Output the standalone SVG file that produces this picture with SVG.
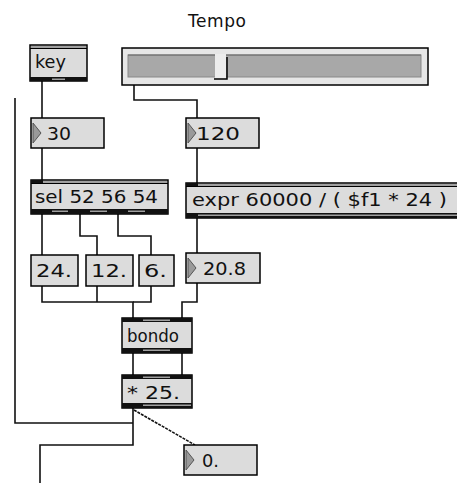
<svg xmlns="http://www.w3.org/2000/svg" width="457" height="483" viewBox="0 0 457 483">
<style>
.box{fill:#dcdcdc;stroke:#000;stroke-width:1.5}
.num{fill:#dcdcdc;stroke:#000;stroke-width:1.5}
.tri{fill:#9a9a9a;stroke:#555;stroke-width:1}
.bar{fill:#111}
.gr{fill:#a0a0a0}
.topl{stroke:#000;stroke-width:1}
.t{font-family:"DejaVu Sans","Liberation Sans",sans-serif;font-size:18.5px;fill:#111}
.w{fill:none;stroke:#111;stroke-width:1.6}
</style>
<rect width="457" height="483" fill="#fff"/>
<text class="t" x="188" y="27" textLength="58" style="font-size:17px">Tempo</text>

<g id="connectors">
<polyline class="w" points="42,81 42,118"/>
<polyline class="w" points="134,85 134,100 197,100 197,118"/>
<polyline class="w" points="42,148 42,180"/>
<polyline class="w" points="197,148 197,183"/>
<polyline class="w" points="42,214 42,255"/>
<polyline class="w" points="80,214 80,236 97,236 97,255"/>
<polyline class="w" points="118,214 118,236 151,236 151,255"/>
<polyline class="w" points="197,218 197,253"/>
<polyline class="w" points="42,286 42,302 133,302 133,318"/>
<polyline class="w" points="97,286 97,302"/>
<polyline class="w" points="151,286 151,302 133,302"/>
<polyline class="w" points="197,283 197,302 182,302 182,318"/>
<polyline class="w" points="133,353 133,375"/>
<polyline class="w" points="182,353 182,375"/>
<polyline class="w" points="15,98 15,423 133,423"/>
<polyline class="w" points="133,408 133,445 40,445 40,483"/>
<line class="w" x1="134" y1="410" x2="195" y2="445" stroke-dasharray="3,1" stroke-width="1.4"/>
</g>

<g id="key">
<rect class="box" x="30" y="45" width="57" height="36"/>
<line class="topl" x1="30" y1="48.5" x2="87" y2="48.5"/>
<rect class="gr" x="31" y="46" width="55" height="2"/>
<rect class="bar" x="30" y="77" width="57" height="4"/>
<rect class="gr" x="52" y="78.5" width="13" height="1.5"/>
<text class="t" x="35" y="68" textLength="31" lengthAdjust="spacingAndGlyphs">key</text>
</g>

<g id="slider">
<rect x="122" y="48" width="306" height="37" fill="#e6e6e6" stroke="#000" stroke-width="1.5"/>
<rect x="128" y="55" width="293" height="22" fill="#a8a8a8" stroke="#888" stroke-width="1"/>
<line x1="128" y1="55" x2="421" y2="55" stroke="#666" stroke-width="1"/>
<rect x="215" y="54" width="11" height="24" fill="#ececec"/>
<polyline points="214,79 227,79 227,57" fill="none" stroke="#000" stroke-width="1.5"/>
</g>

<g id="num30">
<rect class="num" x="31" y="118" width="73" height="30"/>
<polygon class="tri" points="33,123 41,133 33,143"/>
<text class="t" x="47" y="140" textLength="24" lengthAdjust="spacingAndGlyphs">30</text>
</g>

<g id="num120">
<rect class="num" x="186" y="118" width="73" height="30"/>
<polygon class="tri" points="188,123 196,133 188,143"/>
<text class="t" x="196" y="140" textLength="44" lengthAdjust="spacingAndGlyphs">120</text>
</g>

<g id="sel">
<rect class="box" x="31" y="180" width="137" height="34"/>
<rect class="gr" x="32" y="181" width="135" height="2"/>
<rect class="bar" x="31" y="180" width="12" height="3.5"/>
<line class="topl" x1="31" y1="183.5" x2="168" y2="183.5"/>
<rect class="bar" x="31" y="209" width="137" height="5"/>
<rect class="gr" x="52" y="210.5" width="16" height="1.5"/>
<rect class="gr" x="90" y="210.5" width="17" height="1.5"/>
<rect class="gr" x="128" y="210.5" width="17" height="1.5"/>
<text class="t" x="35" y="203" textLength="123" lengthAdjust="spacingAndGlyphs">sel 52 56 54</text>
</g>

<g id="expr">
<rect class="box" x="186" y="183" width="275" height="35"/>
<rect class="gr" x="187" y="184" width="273" height="2"/>
<rect class="bar" x="186" y="183" width="12" height="3.5"/>
<line class="topl" x1="186" y1="186.5" x2="461" y2="186.5"/>
<rect class="bar" x="186" y="213" width="275" height="5"/>
<rect class="gr" x="198" y="214.5" width="262" height="1.5"/>
<text class="t" x="192" y="206" textLength="255" lengthAdjust="spacingAndGlyphs">expr 60000 / ( $f1 * 24 )</text>
</g>

<g id="msg24">
<rect class="num" x="31" y="255" width="47" height="31"/>
<text class="t" x="36" y="277" textLength="36" lengthAdjust="spacingAndGlyphs">24.</text>
</g>
<g id="msg12">
<rect class="num" x="86" y="255" width="47" height="31"/>
<text class="t" x="91" y="277" textLength="36" lengthAdjust="spacingAndGlyphs">12.</text>
</g>
<g id="msg6">
<rect class="num" x="139" y="255" width="35" height="31"/>
<text class="t" x="144" y="277" textLength="23" lengthAdjust="spacingAndGlyphs">6.</text>
</g>

<g id="num208">
<rect class="num" x="186" y="253" width="74" height="30"/>
<polygon class="tri" points="188,258 196,268 188,278"/>
<text class="t" x="203" y="275" textLength="43" lengthAdjust="spacingAndGlyphs">20.8</text>
</g>

<g id="bondo">
<rect class="box" x="122" y="318" width="70" height="35"/>
<rect class="bar" x="122" y="318" width="70" height="4"/>
<rect class="gr" x="143" y="319.5" width="27" height="1.5"/>
<rect class="bar" x="122" y="348" width="70" height="5"/>
<rect class="gr" x="143" y="349.5" width="27" height="1.5"/>
<text class="t" x="127" y="342" textLength="52" lengthAdjust="spacingAndGlyphs">bondo</text>
</g>

<g id="times25">
<rect class="box" x="122" y="375" width="70" height="33"/>
<rect class="bar" x="122" y="375" width="70" height="4"/>
<rect class="gr" x="143" y="376.5" width="27" height="1.5"/>
<rect class="bar" x="122" y="403" width="70" height="5"/>
<rect class="gr" x="143" y="404.5" width="48" height="1.5"/>
<text class="t" x="127" y="399" textLength="53" lengthAdjust="spacingAndGlyphs">* 25.</text>
</g>

<g id="num0">
<rect class="num" x="184" y="445" width="73" height="30"/>
<polygon class="tri" points="186,450 194,460 186,470"/>
<text class="t" x="202" y="467" textLength="17" lengthAdjust="spacingAndGlyphs">0.</text>
</g>
</svg>
